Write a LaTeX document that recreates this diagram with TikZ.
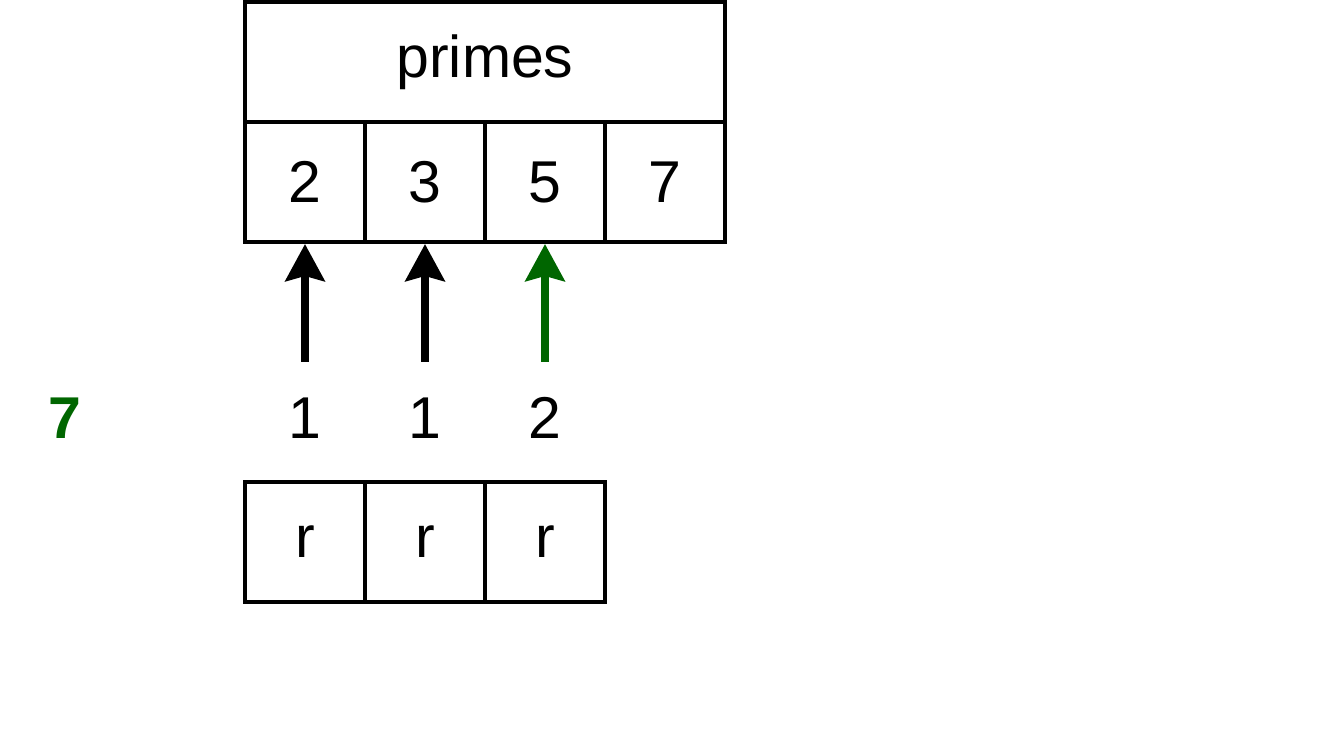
\documentclass[tikz,border=0pt]{standalone}
\usepackage{fontspec}
\setmainfont{Liberation Sans}
\usetikzlibrary{arrows.meta}
\definecolor{darkgreen}{HTML}{006600}

\begin{document}
\begin{tikzpicture}
[x=0.5pt, y=-0.5pt,
 every node/.style={inner sep=0pt, font=\fontsize{29.5}{35}\selectfont},
 cell/.style={draw=black, line width=2pt, minimum width=60pt, minimum height=60pt},
 count/.style={text=black},
 pointer/.style={line width=4.3pt, -{Stealth[length=18.5pt, width=19.5pt, inset=2.5pt]}}]
\useasboundingbox (0,0) rectangle (1333,731);
\node (primes) [cell, minimum width=240pt] at (485, 62) {primes};
\node (p2) [cell] at (305, 182) {2};
\node (p3) [cell] at (425, 182) {3};
\node (p5) [cell] at (545, 182) {5};
\node (p7) [cell] at (665, 182) {7};
\node (n) [text=darkgreen, font=\fontsize{29.5}{35}\selectfont\bfseries] at (65, 418) {7};
\node (c2) [count] at (305, 418) {1};
\node (c3) [count] at (425, 418) {1};
\node (c5) [count] at (545, 418) {2};
\node (r2) [cell] at (305, 542) {r};
\node (r3) [cell] at (425, 542) {r};
\node (r5) [cell] at (545, 542) {r};
\coordinate (a2) at (305, 362);
\coordinate (a3) at (425, 362);
\coordinate (a5) at (545, 362);
\draw [pointer, color=black] (a2) -- (p2.south);
\draw [pointer, color=black] (a3) -- (p3.south);
\draw [pointer, color=darkgreen] (a5) -- (p5.south);
\end{tikzpicture}
\end{document}
